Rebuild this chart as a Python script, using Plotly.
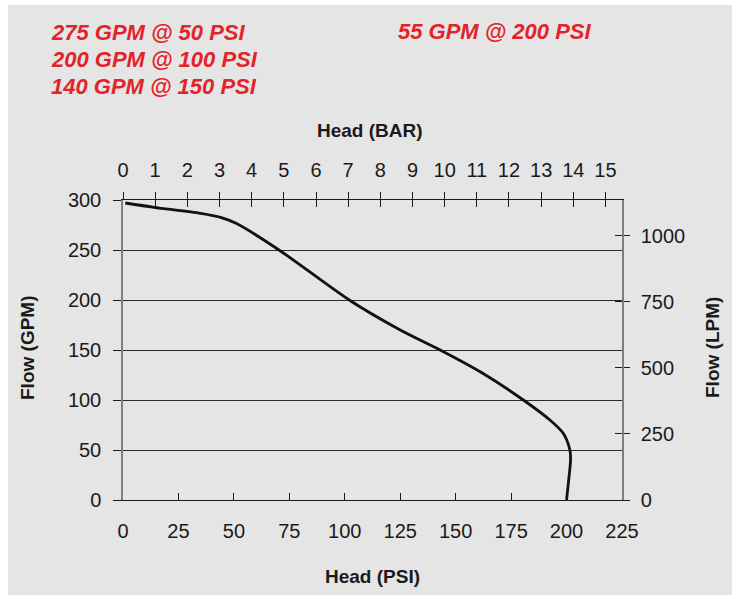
import plotly.graph_objects as go

# ---- data ----
head_psi = [1, 14, 35, 44, 51, 71, 102, 125, 143, 162, 180.5, 192.5, 198.5, 201.5, 201.8, 200.8, 200]
flow_gpm = [297, 292.7, 286.7, 282.7, 276.7, 249, 200, 170, 150, 127, 100, 80, 66.7, 50, 40, 16.7, 0]

psi_ticks = [0, 25, 50, 75, 100, 125, 150, 175, 200, 225]
gpm_ticks = [0, 50, 100, 150, 200, 250, 300]
bar_ticks = list(range(0, 16))
lpm_ticks = [0, 250, 500, 750, 1000]

notes_left = ["275 GPM @ 50 PSI", "200 GPM @ 100 PSI", "140 GPM @ 150 PSI"]
notes_right = ["55 GPM @ 200 PSI"]

PSI_PER_BAR = 14.5038
LPM_PER_GPM = 3.78541
X_MAX = 225
Y_MAX = 300

# ---- layout geometry (pixels) ----
W, H = 732, 595
L, R, T, B = 123, 622, 200, 500
pw, ph = R - L, B - T


def px(x):
    return (x - L) / pw


def py(y):
    return (B - y) / ph


BG = "#e5e5e5"
RED = "#e3222a"
FONT = "Liberation Sans, Arial, sans-serif"

fig = go.Figure()
fig.add_trace(go.Scatter(
    x=head_psi, y=flow_gpm, mode="lines",
    line=dict(color="#111111", width=2.8, shape="spline", smoothing=0.8),
    showlegend=False, hoverinfo="skip",
))
# invisible traces to activate the secondary axes
for xa, ya in [("x2", "y"), ("x3", "y"), ("x", "y2"), ("x", "y3")]:
    fig.add_trace(go.Scatter(x=[0], y=[0], xaxis=xa, yaxis=ya, mode="markers",
                             marker=dict(opacity=0), showlegend=False, hoverinfo="skip"))

tickfont = dict(family=FONT, size=20, color="#1a1a1a")

fig.update_layout(
    width=W, height=H,
    margin=dict(l=L, r=W - R, t=T, b=H - B, pad=0),
    paper_bgcolor="white",
    plot_bgcolor=BG,
    font=dict(family=FONT, color="#1a1a1a"),
    xaxis=dict(
        range=[0, X_MAX], tickvals=psi_ticks, ticks="inside", ticklen=7,
        tickcolor="#1a1a1a", tickwidth=1, showline=True, linecolor="#1a1a1a",
        linewidth=1.2, showgrid=False, zeroline=False, tickfont=tickfont,
        ticklabelstandoff=13,
    ),
    xaxis2=dict(
        overlaying="x", side="top", anchor="y",
        range=[0, X_MAX / PSI_PER_BAR], tickvals=bar_ticks, ticks="outside",
        ticklen=7, tickcolor="#1a1a1a", showline=True, linecolor="#1a1a1a",
        linewidth=1.2, showgrid=False, zeroline=False, tickfont=tickfont,
        ticklabelstandoff=7,
    ),
    xaxis3=dict(
        overlaying="x", side="top", anchor="y",
        range=[0, X_MAX / PSI_PER_BAR], tickvals=bar_ticks, ticks="inside",
        ticklen=7, tickcolor="#1a1a1a", showline=False, showgrid=False,
        zeroline=False, showticklabels=False,
    ),
    yaxis=dict(
        range=[0, Y_MAX], tickvals=gpm_ticks, ticks="outside", ticklen=8,
        tickcolor="#1a1a1a", showline=True, linecolor="#7f7f7f", linewidth=1.5,
        showgrid=True, gridcolor="#2a2a2a", gridwidth=1, zeroline=False,
        tickfont=tickfont, ticklabelstandoff=8,
    ),
    yaxis2=dict(
        overlaying="y", side="right", anchor="x",
        range=[0, Y_MAX * LPM_PER_GPM], tickvals=lpm_ticks, ticks="outside",
        ticklen=6, tickcolor="#1a1a1a", showline=True, linecolor="#7f7f7f",
        linewidth=1.5, showgrid=False, zeroline=False, tickfont=tickfont,
        ticklabelstandoff=7,
    ),
    yaxis3=dict(
        overlaying="y", side="right", anchor="x",
        range=[0, Y_MAX * LPM_PER_GPM], tickvals=lpm_ticks, ticks="inside",
        ticklen=7, tickcolor="#1a1a1a", showline=False, showgrid=False,
        zeroline=False, showticklabels=False,
    ),
    showlegend=False,
)

# gray card behind everything
fig.add_shape(type="rect", xref="paper", yref="paper",
              x0=px(8), x1=px(W + 5), y0=py(H + 5), y1=py(5),
              fillcolor=BG, line=dict(width=0), layer="below")

anns = []
for i, t in enumerate(notes_left):
    anns.append(dict(text=t, x=px(49), y=py(32.5 + 26.8 * i), xanchor="left", yanchor="middle"))
for i, t in enumerate(notes_right):
    anns.append(dict(text=t, x=px(396), y=py(31 + 26.8 * i), xanchor="left", yanchor="middle"))
for a in anns:
    a.update(xref="paper", yref="paper", showarrow=False,
             font=dict(family=FONT, size=22, color=RED, weight="bold", style="italic"))
    fig.add_annotation(**a)

title_font = dict(family=FONT, size=19, color="#1a1a1a", weight="bold")
fig.add_annotation(text="Head (BAR)", x=px(370), y=py(130), xref="paper", yref="paper",
                   showarrow=False, font=title_font, xanchor="center", yanchor="middle")
fig.add_annotation(text="Head (PSI)", x=px(372), y=py(576), xref="paper", yref="paper",
                   showarrow=False, font=title_font, xanchor="center", yanchor="middle")
fig.add_annotation(text="Flow (GPM)", x=px(27), y=py(348), xref="paper", yref="paper",
                   showarrow=False, font=title_font, textangle=-90,
                   xanchor="center", yanchor="middle")
fig.add_annotation(text="Flow (LPM)", x=px(712), y=py(348), xref="paper", yref="paper",
                   showarrow=False, font=title_font, textangle=-90,
                   xanchor="center", yanchor="middle")

fig.write_html(
    "out.html",
    config={"displayModeBar": False},
    post_script="document.body.style.margin='0';document.body.style.padding='0';",
)
